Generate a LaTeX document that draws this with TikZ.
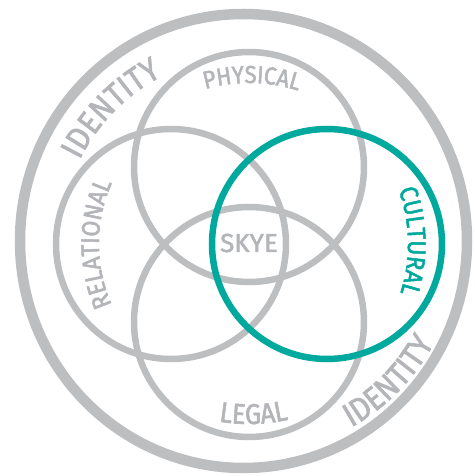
\documentclass[tikz,border=0pt]{standalone}
\usepackage{fontspec}
\setmainfont{Fira Sans}[FakeBold=2]
\newfontfamily\arcfamily{Fira Sans}[FakeBold=2,FakeStretch=0.9]
\usetikzlibrary{decorations.text}
\definecolor{ringgray}{HTML}{BCBEC0}
\definecolor{textgray}{HTML}{B3B5B8}
\definecolor{skyteal}{HTML}{00A99D}
\newcommand\arcsize[1]{\arcfamily\fontsize{#1}{#1}\selectfont}
\begin{document}
\begin{tikzpicture}[x=1pt,y=1pt,
  outerring/.style={draw=ringgray,line width=10.5pt},
  petal/.style={draw=ringgray,line width=6.5pt},
  culturalring/.style={draw=skyteal,line width=6.5pt},
  arctext/.style={decorate,decoration={text along path,text align=center,text color=#1}},
  arctext/.default=textgray]
\useasboundingbox (-249,-232) rectangle (225,244);
\draw[outerring] (-5.5,3) ellipse [x radius=223.5,y radius=227];
\draw[petal] (0,77) circle (115);
\draw[petal] (-78,0) circle (115);
\draw[petal] (0,-78) circle (115);
\draw[culturalring] (78,0) circle (115);
\node[text=textgray,font=\fontsize{26}{26}\selectfont] (skye) at (0,1) {SKYE};
% PHYSICAL (top, clockwise)
\path[arctext,decoration={text={|\arcsize{24.5}|PHYSICAL}}] (129:161) arc[start angle=129,end angle=49,radius=161];
% LEGAL (bottom, counterclockwise)
\path[arctext,decoration={text={|\arcsize{28.5}|LEGAL}}] (-128.5:180) arc[start angle=-128.5,end angle=-48.5,radius=180];
% RELATIONAL (left, clockwise)
\path[arctext,decoration={text={|\arcsize{25.5}|RELATIONAL}}] (215:150) arc[start angle=215,end angle=145,radius=150];
% CULTURAL (right, clockwise)
\path[arctext=skyteal,decoration={text={|\arcsize{25.5}|CULTURAL}}] (41:159) arc[start angle=41,end angle=-39,radius=159];
% IDENTITY top-left
\path[arctext,decoration={text={|\arcsize{33}|IDENTITY}}] (175.5:189) arc[start angle=175.5,end angle=95.5,radius=189];
% IDENTITY bottom-right
\path[arctext,decoration={text={|\arcsize{33}|IDENTITY}}] (-84.5:210) arc[start angle=-84.5,end angle=-4.5,radius=210];
\end{tikzpicture}
\end{document}
